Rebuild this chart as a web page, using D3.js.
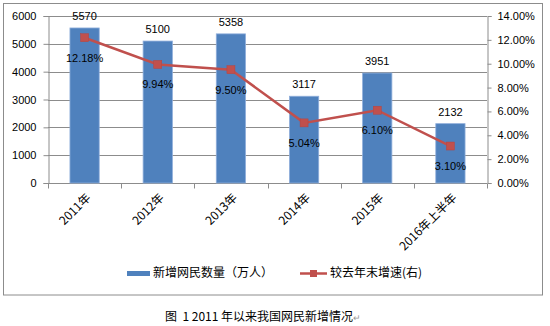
<!DOCTYPE html>
<html>
<head>
<meta charset="utf-8">
<script src="https://cdn.jsdelivr.net/npm/d3@7"></script>
<style>
  html, body { margin: 0; padding: 0; background: #fff; }
  svg text { font-family: "Liberation Sans", "Noto Sans CJK SC", sans-serif; fill: #000; }
</style>
</head>
<body>
<svg id="chart" width="550" height="326"></svg>
<script>
// Data
const categories = ["2011年", "2012年", "2013年", "2014年", "2015年", "2016年上半年"];
const newUsers = [5570, 5100, 5358, 3117, 3951, 2132];          // 新增网民数量（万人）
const growthRate = [12.18, 9.94, 9.50, 5.04, 6.10, 3.10];       // 较去年末增速 (%)
const leftTicks = [0, 1000, 2000, 3000, 4000, 5000, 6000];
const rightTicks = [0, 2, 4, 6, 8, 10, 12, 14];

const svg = d3.select("#chart");
const plot = { left: 48, right: 487, top: 16, bottom: 183 };
const cjk = '"Noto Sans CJK SC", "Liberation Sans", sans-serif';

// Outer frame
svg.append("rect")
  .attr("x", 3.5).attr("y", 3.5).attr("width", 539).attr("height", 291.5)
  .attr("fill", "none").attr("stroke", "#8c8c8c").attr("stroke-width", 1);

const x = d3.scaleBand().domain(categories).range([plot.left, plot.right]).paddingInner(0).paddingOuter(0);
const yL = d3.scaleLinear().domain([0, 6000]).range([plot.bottom, plot.top]);
const yR = d3.scaleLinear().domain([0, 14]).range([plot.bottom, plot.top]);

// Gridlines
svg.append("g").selectAll("line").data(leftTicks.filter(d => d > 0)).join("line")
  .attr("x1", plot.left).attr("x2", plot.right)
  .attr("y1", d => Math.round(yL(d)) + 0.5).attr("y2", d => Math.round(yL(d)) + 0.5)
  .attr("stroke", "#8c8c8c").attr("stroke-width", 1);

// Left axis
const gL = svg.append("g").attr("transform", `translate(${plot.left + 0.5},0)`)
  .call(d3.axisLeft(yL).tickValues(leftTicks).tickFormat(d3.format("d")).tickSize(5).tickPadding(7));
// Right axis
const gR = svg.append("g").attr("transform", `translate(${plot.right + 0.5},0)`)
  .call(d3.axisRight(yR).tickValues(rightTicks).tickFormat(d => d.toFixed(2) + "%").tickSize(4).tickPadding(6));
[gL, gR].forEach(g => {
  g.select(".domain").attr("stroke", "#8c8c8c");
  g.selectAll(".tick line").attr("stroke", "#8c8c8c");
  g.selectAll(".tick text").attr("font-size", 11).attr("fill", "#000")
    .style("font-family", '"Liberation Sans", sans-serif');
});

// Bottom category axis
const gB = svg.append("g").attr("transform", `translate(0,${plot.bottom + 0.5})`);
gB.append("line").attr("x1", plot.left).attr("x2", plot.right).attr("stroke", "#8c8c8c");
const boundaries = categories.map(c => x(c)).concat([plot.right]);
gB.selectAll("line.tick").data(boundaries).join("line").attr("class", "tick")
  .attr("x1", d => Math.round(d) + 0.5).attr("x2", d => Math.round(d) + 0.5)
  .attr("y1", 0).attr("y2", 5).attr("stroke", "#8c8c8c");
gB.selectAll("text").data(categories).join("text")
  .attr("transform", d => `translate(${x(d) + x.bandwidth() / 2 + 4},${12}) rotate(-45)`)
  .attr("text-anchor", "end").attr("dy", "0.35em")
  .attr("font-size", 12).style("font-family", cjk)
  .text(d => d);

// Bars
const barW = x.bandwidth() / 2.5;
svg.append("g").selectAll("rect").data(newUsers).join("rect")
  .attr("x", (d, i) => x(categories[i]) + (x.bandwidth() - barW) / 2)
  .attr("y", d => yL(d))
  .attr("width", barW)
  .attr("height", d => plot.bottom - yL(d))
  .attr("fill", "#4F81BD").attr("stroke", "#8FAEDB").attr("stroke-width", 0.8);

// Bar value labels
svg.append("g").selectAll("text").data(newUsers).join("text")
  .attr("x", (d, i) => x(categories[i]) + x.bandwidth() / 2)
  .attr("y", d => yL(d) - 8)
  .attr("text-anchor", "middle").attr("font-size", 11)
  .text(d => d);

// Growth line
const cx = (d, i) => x(categories[i]) + x.bandwidth() / 2;
svg.append("path").datum(growthRate)
  .attr("d", d3.line().x(cx).y(d => yR(d)))
  .attr("fill", "none").attr("stroke", "#C0504D").attr("stroke-width", 2.5);
svg.append("g").selectAll("rect").data(growthRate).join("rect")
  .attr("x", (d, i) => cx(d, i) - 4).attr("y", d => yR(d) - 4)
  .attr("width", 8).attr("height", 8)
  .attr("fill", "#C0504D").attr("stroke", "#B84541").attr("stroke-width", 0.5);
svg.append("g").selectAll("text").data(growthRate).join("text")
  .attr("x", (d, i) => cx(d, i))
  .attr("y", d => yR(d) + 24)
  .attr("text-anchor", "middle").attr("font-size", 11)
  .text(d => d.toFixed(2) + "%");

// Legend
const lg = svg.append("g").attr("font-size", 12);
lg.append("rect").attr("x", 127).attr("y", 271).attr("width", 23).attr("height", 5).attr("fill", "#4F81BD");
lg.append("text").attr("x", 153).attr("y", 273).attr("dy", "0.35em").style("font-family", cjk)
  .text("新增网民数量（万人）");
lg.append("line").attr("x1", 300).attr("x2", 327).attr("y1", 273.5).attr("y2", 273.5)
  .attr("stroke", "#C0504D").attr("stroke-width", 2.5);
lg.append("rect").attr("x", 310).attr("y", 270).attr("width", 7).attr("height", 7).attr("fill", "#C0504D");
lg.append("text").attr("x", 330).attr("y", 273).attr("dy", "0.35em").style("font-family", cjk)
  .text("较去年末增速(右)");

// Caption
const cap = svg.append("text").attr("x", 165).attr("y", 317).attr("dy", "0.35em")
  .attr("font-size", 12).style("font-family", cjk).attr("xml:space", "preserve");
cap.append("tspan").text("图  1 2011 年以来我国网民新增情况");
cap.append("tspan").attr("fill", "#999").attr("font-size", 9).text("↵");
</script>
</body>
</html>
